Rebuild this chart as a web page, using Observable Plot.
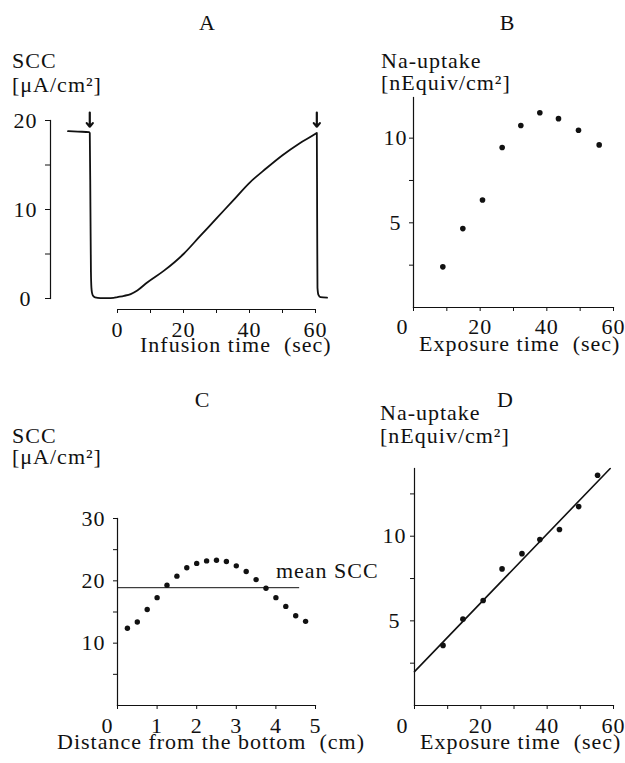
<!DOCTYPE html>
<html><head><meta charset="utf-8">
<script src="https://cdn.jsdelivr.net/npm/d3@7"></script>
<script src="https://cdn.jsdelivr.net/npm/@observablehq/plot@0.6"></script>
<style>
body{margin:0;background:#fff;}
#fig{position:relative;width:625px;height:763px;overflow:hidden;background:#fff;}
#fig svg{position:absolute;left:0;top:0;}
.lbl{position:absolute;font-family:'Liberation Serif','Times New Roman',serif;font-size:22px;line-height:15px;letter-spacing:1px;white-space:pre;color:#111;}
</style></head><body><div id="fig"></div>
<script>
// ---------- data ----------
const panelTitles = ["A", "B", "C", "D"];

// Panel A: SCC trace
const aTime = [-15, -12, -8.6, -8.4, -8.2, -8.05, -7.9, -7.7, -7.4, -6.8, -5.2, -3, -1.2, 0, 2, 4, 6, 9, 14, 20, 25, 30, 35, 40, 45, 50, 55, 60, 60.4, 60.5, 60.6, 60.9, 61.5, 63.5];
const aSCC  = [18.8, 18.75, 18.7, 18.6, 10, 3, 1.2, 0.6, 0.3, 0.12, 0.04, 0.04, 0.06, 0.15, 0.3, 0.5, 0.9, 1.8, 3.1, 5.0, 7.0, 9.0, 11.0, 13.0, 14.6, 16.1, 17.4, 18.5, 18.6, 9, 1.2, 0.4, 0.15, 0.1];
const aArrowTime = [-8.4, 60.4];
const aArrowFrom = 20.9, aArrowTo = 19.3;
const aXTicks = [0, 10, 20, 30, 40, 50, 60];
const aYTicks = [0, 5, 10, 15, 20];

// Panel B: Na uptake vs exposure time
const bTime   = [8.8, 14.8, 20.7, 26.6, 32.2, 37.9, 43.5, 49.5, 55.7];
const bUptake = [2.4, 4.66, 6.35, 9.45, 10.75, 11.5, 11.15, 10.47, 9.6];
const bXTicks = [0, 10, 20, 30, 40, 50, 60];
const bYTicks = [2.5, 5, 7.5, 10];
const bYMax = 12.4;

// Panel C: SCC vs distance
const cDist = [0.25, 0.5, 0.75, 1, 1.25, 1.5, 1.75, 2, 2.25, 2.5, 2.75, 3, 3.25, 3.5, 3.75, 4, 4.25, 4.5, 4.75];
const cSCC  = [12.4, 13.4, 15.4, 17.3, 19.3, 20.75, 22.1, 22.8, 23.2, 23.3, 23.1, 22.4, 21.5, 20.2, 18.8, 17.3, 15.9, 14.4, 13.5];
const cMeanSCC = 18.9;
const cMeanExtent = [0, 4.6];
const cMeanLabel = "mean SCC";
const cMeanLabelX = 4.0;
const cXTicks = [0, 1, 2, 3, 4, 5];
const cYTicks = [5, 10, 15, 20, 25, 30];

// Panel D: Na uptake vs exposure time, linear fit
const dTime   = [8.6, 14.6, 20.7, 26.4, 32.4, 37.8, 43.7, 49.5, 55.2];
const dUptake = [3.55, 5.1, 6.2, 8.07, 8.97, 9.8, 10.4, 11.75, 13.6];
const dFitTime = [0, 59];
const dFitUptake = [2.0, 14.0];
const dXTicks = [0, 10, 20, 30, 40, 50, 60];
const dYTicks = [2.5, 5, 7.5, 10, 12.5];
const dYMax = 14;

// ---------- helpers ----------
const W = 625, H = 763;
const INK = "#111";
const FONT = "'Liberation Serif','Times New Roman',serif";
const svgStyle = {fontFamily: FONT, fontSize: "22px", letterSpacing: "1px", background: "transparent", overflow: "visible", color: INK};
const fig = document.getElementById("fig");

function label(text, x, baseline, anchor) {
  const d = document.createElement("div");
  d.className = "lbl";
  d.textContent = text;
  d.style.left = x + "px";
  d.style.top = (baseline - 14.9) + "px";
  if (anchor === "middle") d.style.transform = "translateX(-50%)";
  fig.appendChild(d);
}
const fmtEvery = (step) => d => (d !== 0 && d % step === 0) ? String(d) : "";

// ---------- Panel A ----------
const aData = aTime.map((t, i) => ({t, v: aSCC[i]}));
fig.appendChild(Plot.plot({
  width: W, height: H,
  marginLeft: 50, marginRight: 302, marginTop: 120, marginBottom: 465,
  x: {domain: [0, 60], range: [117, 315]},
  y: {domain: [0, 20]},
  style: svgStyle,
  marks: [
    Plot.frame({anchor: "left", stroke: INK, strokeWidth: 1.2}),
    Plot.ruleY([0], {x1: aXTicks[0], x2: aXTicks[aXTicks.length - 1], dy: 11, stroke: INK, strokeWidth: 1.2}),
    Plot.axisX({ticks: aXTicks, tickFormat: d => d % 20 === 0 ? String(d) : "", tickSize: 4, tickPadding: 8, dy: 11, label: null}),
    Plot.axisY({ticks: aYTicks, tickFormat: d => d % 10 === 0 ? String(d) : "", tickSize: 5, tickPadding: 20, textAnchor: "middle", label: null}),
    Plot.line(aData, {x: "t", y: "v", stroke: INK, strokeWidth: 1.8, curve: "monotone-x"}),
    Plot.arrow(aArrowTime, {x1: d => d, x2: d => d, y1: () => aArrowFrom, y2: () => aArrowTo, stroke: INK, strokeWidth: 2.2, headLength: 6, headAngle: 80})
  ]
}));

// ---------- Panel B ----------
const bData = bTime.map((t, i) => ({t, v: bUptake[i]}));
fig.appendChild(Plot.plot({
  width: W, height: H,
  marginLeft: 413, marginRight: 12, marginTop: 97, marginBottom: 456,
  x: {domain: [0, 60]},
  y: {domain: [0, bYMax]},
  style: svgStyle,
  marks: [
    Plot.frame({anchor: "left", stroke: INK, strokeWidth: 1.2}),
    Plot.frame({anchor: "bottom", stroke: INK, strokeWidth: 1.2}),
    Plot.axisX({ticks: bXTicks, tickFormat: fmtEvery(20), tickSize: 4, tickPadding: 7, label: null}),
    Plot.axisY({ticks: bYTicks, tickFormat: fmtEvery(5), tickSize: 4, tickPadding: 14, textAnchor: "middle", label: null}),
    Plot.text(["0"], {frameAnchor: "bottom-left", text: d => d, dx: -17, dy: 11, lineAnchor: "top"}),
    Plot.dot(bData, {x: "t", y: "v", r: 2.8, fill: INK})
  ]
}));

// ---------- Panel C ----------
const cData = cDist.map((x, i) => ({x, v: cSCC[i]}));
fig.appendChild(Plot.plot({
  width: W, height: H,
  marginLeft: 117, marginRight: 310, marginTop: 518, marginBottom: 58,
  x: {domain: [0, 5]},
  y: {domain: [0, 30]},
  style: svgStyle,
  marks: [
    Plot.frame({anchor: "left", stroke: INK, strokeWidth: 1.2}),
    Plot.frame({anchor: "bottom", stroke: INK, strokeWidth: 1.2}),
    Plot.axisX({ticks: cXTicks, tickFormat: d => d === 0 ? "" : String(d), tickSize: 4, tickPadding: 8, label: null}),
    Plot.axisY({ticks: cYTicks, tickFormat: fmtEvery(10), tickSize: 4, tickPadding: 20, textAnchor: "middle", label: null}),
    Plot.text(["0"], {frameAnchor: "bottom-left", text: d => d, dx: -16, dy: 12, lineAnchor: "top"}),
    Plot.ruleY([cMeanSCC], {x1: cMeanExtent[0], x2: cMeanExtent[1], stroke: INK, strokeWidth: 1}),
    Plot.text([cMeanLabel], {x: () => cMeanLabelX, y: () => cMeanSCC, text: d => d, textAnchor: "start", lineAnchor: "bottom", dy: -10}),
    Plot.dot(cData, {x: "x", y: "v", r: 2.7, fill: INK})
  ]
}));

// ---------- Panel D ----------
const dData = dTime.map((t, i) => ({t, v: dUptake[i]}));
const dFit = dFitTime.map((t, i) => ({t, v: dFitUptake[i]}));
fig.appendChild(Plot.plot({
  width: W, height: H,
  marginLeft: 414, marginRight: 12, marginTop: 468, marginBottom: 58,
  x: {domain: [0, 60]},
  y: {domain: [0, dYMax]},
  style: svgStyle,
  marks: [
    Plot.frame({anchor: "left", stroke: INK, strokeWidth: 1.2}),
    Plot.frame({anchor: "bottom", stroke: INK, strokeWidth: 1.2}),
    Plot.axisX({ticks: dXTicks, tickFormat: fmtEvery(20), tickSize: 4, tickPadding: 8, label: null}),
    Plot.axisY({ticks: dYTicks, tickFormat: fmtEvery(5), tickSize: 4, tickPadding: 16, textAnchor: "middle", label: null}),
    Plot.text(["0"], {frameAnchor: "bottom-left", text: d => d, dx: -18, dy: 12, lineAnchor: "top"}),
    Plot.line(dFit, {x: "t", y: "v", stroke: INK, strokeWidth: 1.6}),
    Plot.dot(dData, {x: "t", y: "v", r: 2.8, fill: INK})
  ]
}));

// ---------- titles and axis labels ----------
label(panelTitles[0], 207.5, 30, "middle");
label(panelTitles[1], 507.5, 30, "middle");
label(panelTitles[2], 202.5, 407, "middle");
label(panelTitles[3], 505.5, 407, "middle");

label("SCC", 12, 68);
label("[μA/cm²]", 12, 92);
label("Na-uptake", 381, 68);
label("[nEquiv/cm²]", 381, 90);
label("SCC", 12, 443);
label("[μA/cm²]", 12, 464);
label("Na-uptake", 380, 420);
label("[nEquiv/cm²]", 380, 443);

label("Infusion time  (sec)", 140, 352);
label("Exposure time  (sec)", 419, 351);
label("Distance from the bottom  (cm)", 57, 749);
label("Exposure time  (sec)", 420, 749);
</script></body></html>
